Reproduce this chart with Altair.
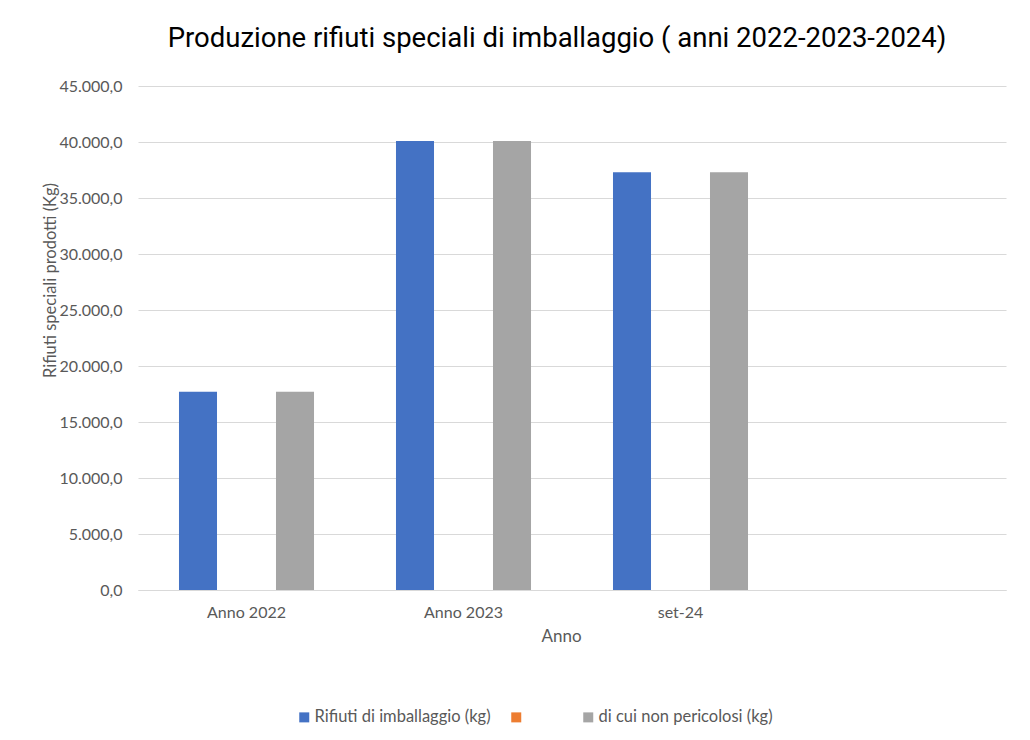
import altair as alt
import pandas as pd

categories = ["Anno 2022", "Anno 2023", "set-24"]
empty_category = " "
series_names = ["Rifiuti di imballaggio (kg)", "\u2800\u2800\u2800", "di cui non pericolosi (kg)"]
rifiuti_imballaggio = [17700, 40100, 37300]
serie_vuota = [0, 0, 0]
non_pericolosi = [17700, 40100, 37300]
colors = ["#4472C4", "#ED7D31", "#A5A5A5"]

rows = []
for name, vals in zip(series_names, [rifiuti_imballaggio, serie_vuota, non_pericolosi]):
    for c, v in zip(categories, vals):
        rows.append({"Anno": c, "Serie": name, "Valore": v})
df = pd.DataFrame(rows)

FONT = "Lato"
GREY = "#595959"

chart = alt.Chart(df).mark_bar().encode(
    x=alt.X("Anno:N",
            scale=alt.Scale(domain=categories + [empty_category], paddingInner=0, paddingOuter=0),
            axis=alt.Axis(title="Anno", labelAngle=0, ticks=False, domainColor="#D9D9D9",
                          labelPadding=14, labelFontSize=16, labelColor=GREY, labelFont=FONT,
                          titleFontSize=17, titleColor=GREY, titleFont=FONT, titleFontWeight="normal",
                          titlePadding=8, titleX=423)),
    xOffset=alt.XOffset("Serie:N",
                        scale=alt.Scale(domain=series_names, paddingInner=0.216, paddingOuter=0.845)),
    y=alt.Y("Valore:Q",
            scale=alt.Scale(domain=[0, 45000], nice=False),
            axis=alt.Axis(title="Rifiuti speciali prodotti (Kg)", values=list(range(0, 45001, 5000)),
                          labelExpr="datum.value == 0 ? '0,0' : format(datum.value/1000, 'd') + '.000,0'",
                          domain=False, ticks=False, labelPadding=16, gridColor="#D9D9D9",
                          labelFontSize=16, labelColor=GREY, labelFont=FONT,
                          titleFontSize=16.5, titleColor=GREY, titleFont=FONT, titleFontWeight="normal",
                          titleAngle=270, titleAlign="center", titleBaseline="middle",
                          titleX=-88, titleY=194)),
    color=alt.Color("Serie:N",
                    scale=alt.Scale(domain=series_names, range=colors),
                    legend=alt.Legend(title=None, orient="none", direction="horizontal",
                                      legendX=158, legendY=623, symbolType="square", symbolSize=100,
                                      symbolStrokeWidth=0, labelFontSize=16.5, labelColor=GREY, labelFont=FONT,
                                      labelOffset=2, columnPadding=17, padding=0, labelLimit=400)),
).properties(
    width=868,
    height=504,
    title=alt.Title("Produzione rifiuti speciali di imballaggio ( anni 2022-2023-2024)",
                    font="Roboto", fontSize=27.5, fontWeight="normal", color="#000000",
                    anchor="middle", dx=-15, offset=26),
    autosize=alt.AutoSizeParams(type="none"),
    padding={"left": 130, "top": 78, "right": 16, "bottom": 150},
    background="#FFFFFF",
).configure_view(stroke=None)

chart.save("out.html", embed_options={"renderer": "svg", "actions": False})
